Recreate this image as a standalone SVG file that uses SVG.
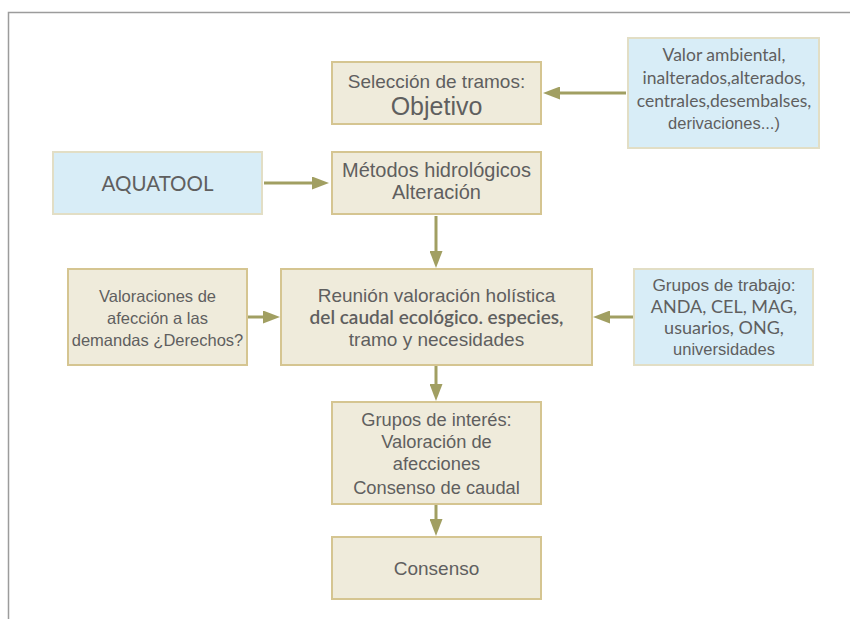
<svg xmlns="http://www.w3.org/2000/svg" width="850" height="619" viewBox="0 0 850 619">
<style>
.bg{fill:#ffffff}
.frame{fill:none;stroke:#9c9c9c;stroke-width:1.5}
.box{fill:#EFEBDB;stroke:#D5C591;stroke-width:2}
.info{fill:#D8EDF7;stroke:#E2DEC5;stroke-width:2}
.t{font-family:"Liberation Sans",Arial,sans-serif;fill:#5f5f5f;text-anchor:middle}
.g{font-family:Lato,"Open Sans",sans-serif;fill:#5f5f5f;text-anchor:middle}
.conn line{stroke:#A19F62;stroke-width:3;fill:none}
</style>
<defs>
<marker id="ah" viewBox="0 0 17 13" refX="7" refY="6.5" markerWidth="17" markerHeight="13" markerUnits="userSpaceOnUse" orient="auto">
<path d="M0,0 L17,6.5 L0,13 z" fill="#A19F62"/>
</marker>
</defs>
<rect class="bg" x="0" y="0" width="850" height="619"/>
<path class="frame" d="M8.5,619 L8.5,12.5 L850,12.5"/>

<g id="connectors" class="conn">
<line x1="626" y1="93" x2="553" y2="93" marker-end="url(#ah)"/>
<line x1="264" y1="183" x2="319" y2="183" marker-end="url(#ah)"/>
<line x1="436" y1="216" x2="436" y2="258" marker-end="url(#ah)"/>
<line x1="247" y1="317" x2="270" y2="317" marker-end="url(#ah)"/>
<line x1="633" y1="317" x2="603" y2="317" marker-end="url(#ah)"/>
<line x1="436" y1="366" x2="436" y2="391" marker-end="url(#ah)"/>
<line x1="436" y1="505" x2="436" y2="526" marker-end="url(#ah)"/>
</g>

<g id="seleccion">
<rect class="box" x="332" y="62" width="209" height="62"/>
<text class="t" x="436.5" y="87.5" font-size="19">Selección de tramos:</text>
<text class="t" x="436.5" y="115" font-size="25">Objetivo</text>
</g>

<g id="valor-ambiental">
<rect class="info" x="628" y="38" width="191" height="110"/>
<text class="g" x="724" y="60.5" font-size="17.5">Valor ambiental,</text>
<text class="g" x="724" y="84" font-size="17.5">inalterados,alterados,</text>
<text class="g" x="724" y="106.5" font-size="17.5">centrales,desembalses,</text>
<text class="t" x="724" y="129" font-size="16.5">derivaciones...)</text>
</g>

<g id="aquatool">
<rect class="info" x="53" y="152" width="209" height="62"/>
<text class="g" x="157.5" y="191" font-size="20.5">AQUATOOL</text>
</g>

<g id="metodos">
<rect class="box" x="332" y="152" width="209" height="62"/>
<text class="t" x="436.5" y="176.5" font-size="20">Métodos hidrológicos</text>
<text class="t" x="436.5" y="199" font-size="20">Alteración</text>
</g>

<g id="valoraciones">
<rect class="box" x="68" y="269" width="179" height="96"/>
<text class="t" x="157.5" y="301.5" font-size="16.5">Valoraciones de</text>
<text class="t" x="157.5" y="323.5" font-size="16.5">afección a las</text>
<text class="t" x="157.5" y="345.5" font-size="16.5">demandas ¿Derechos?</text>
</g>

<g id="reunion">
<rect class="box" x="281" y="269" width="311" height="96"/>
<text class="t" x="436.5" y="301.5" font-size="19">Reunión valoración holística</text>
<text class="g" x="436.5" y="323.5" font-size="19" font-weight="600">del caudal ecológico. especies,</text>
<text class="t" x="436.5" y="345.5" font-size="19">tramo y necesidades</text>
</g>

<g id="grupos-trabajo">
<rect class="info" x="634" y="269" width="179" height="96"/>
<text class="t" x="724" y="290.5" font-size="17.3">Grupos de trabajo:</text>
<text class="g" x="724" y="312.5" font-size="18">ANDA, CEL, MAG,</text>
<text class="g" x="724" y="334" font-size="18">usuarios, ONG,</text>
<text class="t" x="724" y="354.5" font-size="16.5">universidades</text>
</g>

<g id="grupos-interes">
<rect class="box" x="332" y="402" width="209" height="102"/>
<text class="t" x="436.5" y="426" font-size="18.3">Grupos de interés:</text>
<text class="t" x="436.5" y="447.5" font-size="18.3">Valoración de</text>
<text class="t" x="436.5" y="470" font-size="18.3">afecciones</text>
<text class="t" x="436.5" y="493.5" font-size="18.3">Consenso de caudal</text>
</g>

<g id="consenso">
<rect class="box" x="332" y="537" width="209" height="62"/>
<text class="t" x="436.5" y="574.5" font-size="19">Consenso</text>
</g>
</svg>
